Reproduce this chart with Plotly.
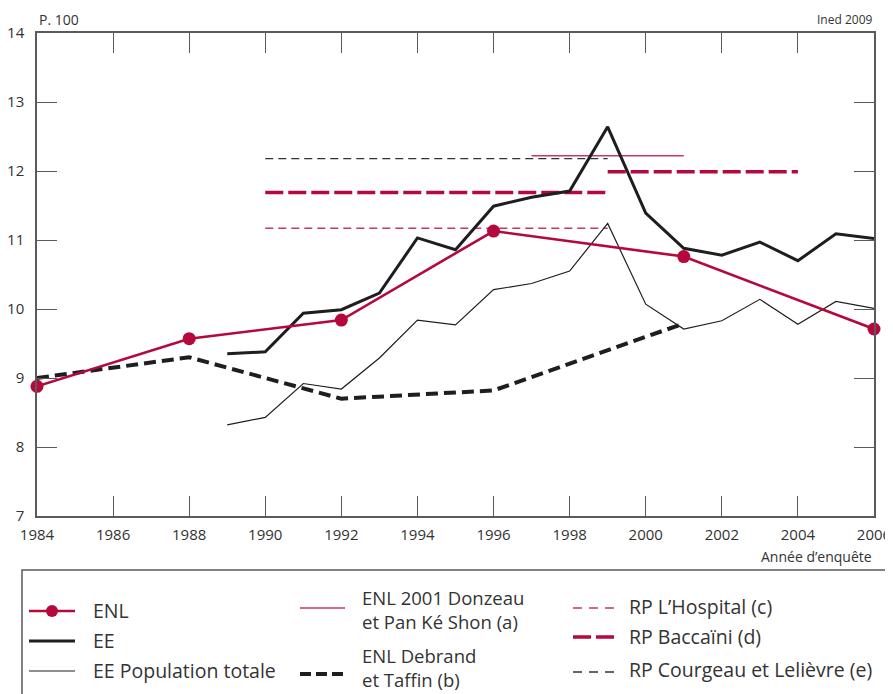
import plotly.graph_objects as go

# ---------------- data ----------------
enl_years = [1984, 1988, 1992, 1996, 2001, 2006]
enl_vals = [8.88, 9.57, 9.84, 11.13, 10.76, 9.71]

ee_years = list(range(1989, 2007))
ee_vals = [9.35, 9.38, 9.94, 9.99, 10.23, 11.03, 10.86, 11.49, 11.62, 11.71,
           12.64, 11.39, 10.88, 10.78, 10.97, 10.70, 11.09, 11.02]
ee_tot_vals = [8.32, 8.43, 8.92, 8.84, 9.29, 9.84, 9.77, 10.28, 10.37, 10.55,
               11.24, 10.07, 9.71, 9.83, 10.14, 9.78, 10.11, 10.01]

debrand_years = [1984, 1988, 1992, 1996, 2001]
debrand_vals = [9.00, 9.30, 8.70, 8.82, 9.79]

donzeau_years = [1997, 2001]
donzeau_vals = [12.22, 12.22]

courgeau_years = [1990, 1999]
courgeau_vals = [12.18, 12.18]

baccaini_years_a = [1990, 1999]
baccaini_vals_a = [11.69, 11.69]
baccaini_years_b = [1999, 2004]
baccaini_vals_b = [11.99, 11.99]

hospital_years = [1990, 1999]
hospital_vals = [11.17, 11.17]

x_ticks = list(range(1984, 2007, 2))
y_ticks = list(range(7, 15))

# ---------------- style ----------------
RED = "#b5083c"
RED_LIGHT = "#c43a5e"
BLACK = "#1e1e1e"
AXIS = "#5a5a5a"
TXT = "#333333"
FONT = "Open Sans"

OFF = 8  # page body margin in the browser
W, H = 893 - OFF, 694 - OFF
L, T = 37 - OFF, 33 - OFF
R = 893 - 874
B = H - (516 - OFF)
PW, PH = W - L - R, H - T - B


def px(x):
    return (x - OFF - L) / PW


def py(y):
    return (H - B - (y - OFF)) / PH


fig = go.Figure()

fig.add_trace(go.Scatter(x=hospital_years, y=hospital_vals, mode="lines",
                         line=dict(color=RED_LIGHT, width=1.3, dash="8px,5px")))
fig.add_trace(go.Scatter(x=courgeau_years, y=courgeau_vals, mode="lines",
                         line=dict(color="#333333", width=1.3, dash="8px,5px")))
fig.add_trace(go.Scatter(x=baccaini_years_a, y=baccaini_vals_a, mode="lines",
                         line=dict(color=RED, width=3.5, dash="18px,5px")))
fig.add_trace(go.Scatter(x=baccaini_years_b, y=baccaini_vals_b, mode="lines",
                         line=dict(color=RED, width=3.5, dash="18px,5px")))
fig.add_trace(go.Scatter(x=donzeau_years, y=donzeau_vals, mode="lines",
                         line=dict(color=RED_LIGHT, width=1.5)))
fig.add_trace(go.Scatter(x=ee_years, y=ee_tot_vals, mode="lines",
                         line=dict(color=BLACK, width=1.2)))
fig.add_trace(go.Scatter(x=ee_years, y=ee_vals, mode="lines",
                         line=dict(color=BLACK, width=3)))
fig.add_trace(go.Scatter(x=debrand_years, y=debrand_vals, mode="lines",
                         line=dict(color=BLACK, width=4, dash="12px,6px")))
fig.add_trace(go.Scatter(x=enl_years, y=enl_vals, mode="lines+markers",
                         cliponaxis=False,
                         line=dict(color=RED, width=2.6),
                         marker=dict(color=RED, size=13)))

axis_common = dict(showline=True, linecolor=AXIS, linewidth=1.5, mirror="ticks",
                   ticks="inside", ticklen=20, tickwidth=1.3, tickcolor=AXIS,
                   showgrid=False, zeroline=False, automargin=False,
                   tickfont=dict(family=FONT, size=15, color=TXT))

fig.update_layout(
    width=W, height=H, autosize=False,
    margin=dict(l=L, r=R, t=T, b=B),
    paper_bgcolor="white", plot_bgcolor="white",
    showlegend=False,
    font=dict(family=FONT, color=TXT),
    xaxis=dict(range=[1984, 2006], tickvals=x_ticks, ticklabelstandoff=4, **axis_common),
    yaxis=dict(range=[7, 14], tickvals=y_ticks, ticklabelstandoff=8, **axis_common),
)

ann = []
ann.append(dict(x=px(37), y=py(20), xref="paper", yref="paper", text="P. 100",
                showarrow=False, xanchor="left", yanchor="middle",
                font=dict(family=FONT, size=14, color=TXT)))
ann.append(dict(x=px(874), y=py(20), xref="paper", yref="paper", text="Ined 2009",
                showarrow=False, xanchor="right", yanchor="middle",
                font=dict(family=FONT, size=12, color=TXT)))
ann.append(dict(x=px(874), y=py(556), xref="paper", yref="paper", text="Année d’enquête",
                showarrow=False, xanchor="right", yanchor="middle",
                font=dict(family=FONT, size=14, color=TXT)))

shapes = []
# legend box
shapes.append(dict(type="rect", xref="paper", yref="paper",
                   x0=px(22), x1=px(888), y0=py(570), y1=py(710),
                   line=dict(color=AXIS, width=1.5), fillcolor="rgba(0,0,0,0)"))


def leg_line(x0, x1, y, color, width, dash="solid"):
    shapes.append(dict(type="line", xref="paper", yref="paper",
                       x0=px(x0), x1=px(x1), y0=py(y), y1=py(y),
                       line=dict(color=color, width=width, dash=dash)))


def leg_text(x, y, text, size=19.5):
    ann.append(dict(x=px(x), y=py(y), xref="paper", yref="paper", text=text,
                    showarrow=False, xanchor="left", yanchor="middle", align="left",
                    font=dict(family=FONT, size=size, color=TXT)))


# column 1
leg_line(29, 75, 611, RED, 2.6)
shapes.append(dict(type="circle", xref="paper", yref="paper",
                   x0=px(46), x1=px(58), y0=py(605), y1=py(617),
                   fillcolor=RED, line=dict(color=RED, width=0)))
leg_text(91, 610, "ENL")
leg_line(29, 75, 641, BLACK, 3)
leg_text(91, 640, "EE")
leg_line(29, 75, 671, BLACK, 1.2)
leg_text(91, 670, "EE Population totale")
# column 2
leg_line(300, 345, 608, RED_LIGHT, 1.5)
leg_text(360, 609, "ENL 2001 Donzeau<br>et Pan Ké Shon (a)", 18.5)
leg_line(300, 345, 674, BLACK, 4, "11px,5px")
leg_text(360, 667, "ENL Debrand<br>et Taffin (b)", 18.5)
# column 3
leg_line(573, 615, 608, RED_LIGHT, 1.3, "9px,7px")
leg_text(627, 606, "RP L’Hospital (c)")
leg_line(573, 615, 637, RED, 3.5, "18px,5px")
leg_text(627, 636, "RP Baccaïni (d)")
leg_line(573, 615, 672, "#333333", 1.3, "9px,7px")
leg_text(627, 669, "RP Courgeau et Lelièvre (e)")

fig.update_layout(annotations=ann, shapes=shapes)

fig.write_html("out.html")
